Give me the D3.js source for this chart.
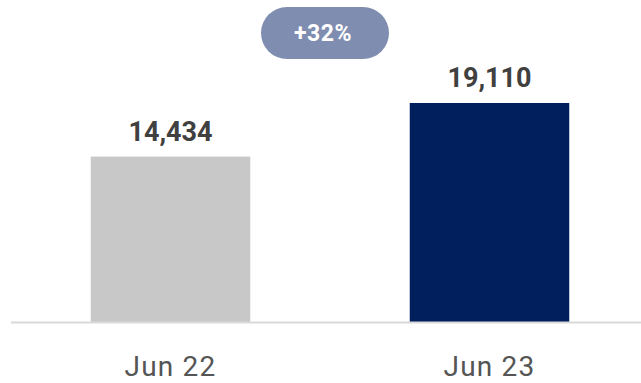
<!DOCTYPE html>
<html>
<head>
<meta charset="utf-8">
<script src="https://cdn.jsdelivr.net/npm/d3@7"></script>
<style>
  html, body { margin: 0; padding: 0; background: #ffffff; }
  svg { display: block; font-family: Roboto, "Noto Sans", sans-serif; }
</style>
</head>
<body>
<svg id="chart" width="641" height="383"></svg>
<script>
// Period labels and their totals
const categories = ["Jun 22", "Jun 23"];
const values = [14434, 19110];
const barColors = ["#c8c8c8", "#001f5c"];
const changeLabel = "+32%";

const svg = d3.select("#chart");
const width = 641;

const x = d3.scaleBand()
  .domain(categories)
  .range([11, 649])
  .paddingInner(0.5)
  .paddingOuter(0.25);

const y = d3.scaleLinear()
  .domain([0, 19110])
  .range([322, 103]);

// Bars
svg.selectAll("rect.bar")
  .data(categories)
  .join("rect")
  .attr("class", "bar")
  .attr("x", d => x(d))
  .attr("width", x.bandwidth())
  .attr("y", (d, i) => y(values[i]))
  .attr("height", (d, i) => y(0) - y(values[i]))
  .attr("fill", (d, i) => barColors[i]);

// Baseline
svg.append("line")
  .attr("x1", 11).attr("x2", width)
  .attr("y1", y(0) + 0.5).attr("y2", y(0) + 0.5)
  .attr("stroke", "#d9d9d9")
  .attr("stroke-width", 2);

// Value labels above bars
svg.selectAll("text.value")
  .data(categories)
  .join("text")
  .attr("class", "value")
  .attr("x", d => x(d) + x.bandwidth() / 2)
  .attr("y", (d, i) => y(values[i]) - 16)
  .attr("text-anchor", "middle")
  .attr("font-size", 27)
  .attr("font-weight", 700)
  .attr("fill", "#404040")
  .text((d, i) => d3.format(",")(values[i]));

// Category labels
svg.selectAll("text.cat")
  .data(categories)
  .join("text")
  .attr("class", "cat")
  .attr("x", d => x(d) + x.bandwidth() / 2)
  .attr("y", 376)
  .attr("text-anchor", "middle")
  .attr("font-size", 28)
  .attr("letter-spacing", 1.2)
  .attr("fill", "#555555")
  .text(d => d);

// Change badge
const pillW = 128, pillH = 52;
const pillCx = 325, pillCy = 33;
svg.append("rect")
  .attr("x", pillCx - pillW / 2)
  .attr("y", pillCy - pillH / 2)
  .attr("width", pillW)
  .attr("height", pillH)
  .attr("rx", pillH / 2)
  .attr("fill", "#7f8db0");
svg.append("text")
  .attr("x", pillCx - 2)
  .attr("y", pillCy + 8)
  .attr("text-anchor", "middle")
  .attr("font-size", 23)
  .attr("font-weight", 700)
  .attr("letter-spacing", 0.5)
  .attr("fill", "#ffffff")
  .text(changeLabel);
</script>
</body>
</html>
